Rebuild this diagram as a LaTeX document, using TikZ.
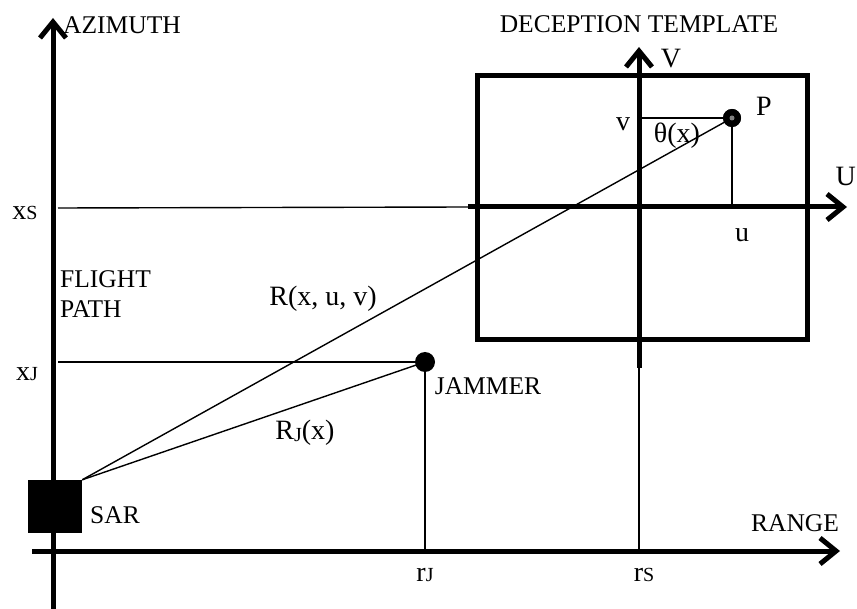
\documentclass[tikz,border=0pt]{standalone}
\usepackage{fontspec}
\setmainfont{Liberation Serif}
\usetikzlibrary{arrows.meta}
\newcommand{\smc}[1]{{\fontsize{20}{20}\selectfont #1}}
\begin{document}
\begin{tikzpicture}[x=1pt,y=-1pt,
  axisarrow/.style={line width=5pt,-{Straight Barb[length=16pt,width=26pt]}},
  thinline/.style={line width=1.4pt},
  lbl/.style={inner sep=0pt,font=\fontsize{25.5}{30}\selectfont},
  slbl/.style={inner sep=0pt,font=\fontsize{28}{30}\selectfont},
  dot/.style={circle,fill=black,inner sep=0pt,minimum size=#1}
]
\useasboundingbox (0,0) rectangle (857,609);
\fill[white] (0,0) rectangle (857,609);

% coordinates
\coordinate (azB) at (53,609);
\coordinate (azT) at (53,18);
\coordinate (rgL) at (32,551);
\coordinate (rgR) at (840,551);
\coordinate (uL) at (468,207);
\coordinate (uR) at (847,207);
\coordinate (vB) at (639,368);
\coordinate (vT) at (639,47);
\coordinate (vR) at (639,551);
\coordinate (xsL) at (58,208);
\coordinate (xjL) at (58,362);
\coordinate (rjB) at (425,551);
\coordinate (vAx) at (639,118);
\coordinate (uAx) at (732,207);

% nodes
\node[rectangle,fill=black,minimum width=54pt,minimum height=53pt,inner sep=0pt] (sar) at (55,506.5) {};
\node[dot=20pt] (jam) at (425,362) {};
\node[dot=18pt] (P) at (732,118) {};

% thin lines
\draw[thinline] (xsL) -- (uL);
\draw[thinline] (xjL) -- (jam.center);
\draw[thinline] (jam.center) -- (rjB);
\draw[thinline] (vB) -- (vR);
\draw[thinline] (vAx) -- (P.center);
\draw[thinline] (P.center) -- (uAx);
\draw[thinline] (sar.north east) -- (P.center);
\draw[thinline] (sar.north east) -- (jam.center);

% box
\node[draw,line width=5pt,minimum width=330pt,minimum height=264pt,inner sep=0pt] (box) at (642,208) {};

% axes
\draw[axisarrow] (azB) -- (azT);
\draw[axisarrow] (rgL) -- (rgR);
\draw[axisarrow] (uL) -- (uR);
\draw[axisarrow] (vB) -- (vT);

% dot on top
\node[dot=18pt] (P2) at (P) {};
\fill[gray] (P2.center) circle (2.5pt);

% labels
\node[lbl,anchor=west] (tAz) at (63,25) {AZIMUTH};
\node[lbl] (tDec) at (639,24) {DECEPTION TEMPLATE};
\node[slbl] (tV) at (671,59) {V};
\node[slbl,anchor=east] (tU) at (856,176) {U};
\node[slbl] (tP) at (764,106) {P};
\node[slbl] (tv) at (623,124) {v};
\node[slbl] (tth) at (677,136) {θ(x)};
\node[slbl] (tu) at (742,235) {u};
\node[slbl] (txs) at (25,213) {x\smc{S}};
\node[lbl,anchor=north west,align=left] (tFP) at (60,270) {FLIGHT\\PATH};
\node[slbl] (tR) at (323,299) {R(x, u, v)};
\node[slbl] (txj) at (27,374) {x\smc{J}};
\node[lbl] (tJam) at (488,386) {JAMMER};
\node[slbl] (tRJ) at (305,433) {R\raisebox{-2pt}{\smc{J}}(x)};
\node[lbl] (tSAR) at (115,515) {SAR};
\node[lbl] (tRange) at (795,523) {RANGE};
\node[slbl] (trj) at (425,575) {r\smc{J}};
\node[slbl] (trs) at (644,575) {r\smc{S}};
\end{tikzpicture}
\end{document}
